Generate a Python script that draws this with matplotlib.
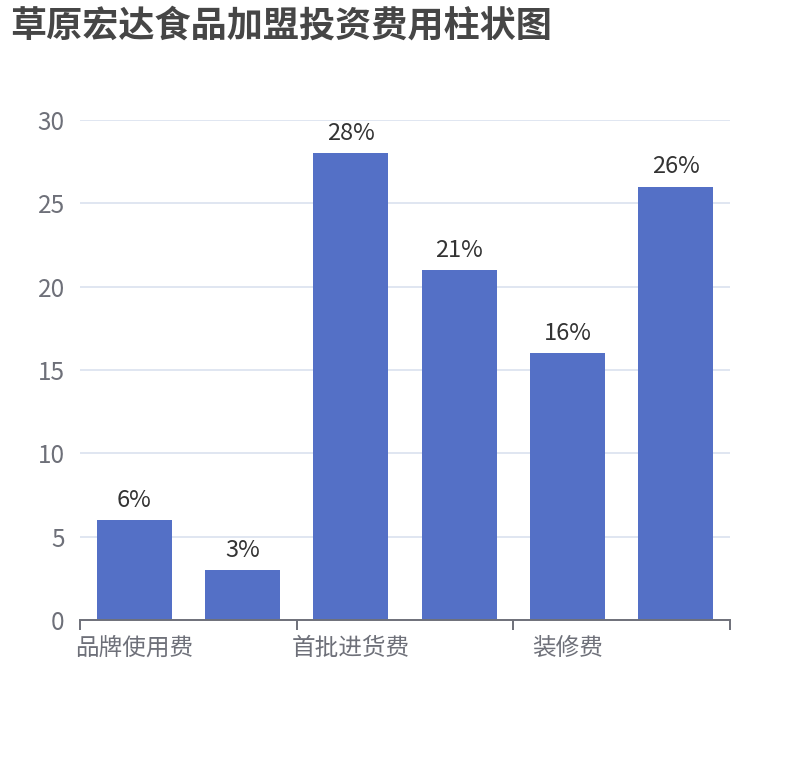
import matplotlib
matplotlib.use("Agg")
import matplotlib.pyplot as plt
from matplotlib.ticker import FixedLocator

plt.rcParams['font.family'] = ['Noto Sans CJK SC', 'DejaVu Sans']

title = "草原宏达食品加盟投资费用柱状图"
categories = ["品牌使用费", "加盟保证金", "首批进货费", "设备费", "装修费", "流动资金"]
values = [6, 3, 28, 21, 16, 26]
shown_labels = ["品牌使用费", "", "首批进货费", "", "装修费", ""]
y_ticks = [0, 5, 10, 15, 20, 25, 30]

W, H = 810, 760
fig = plt.figure(figsize=(W / 100, H / 100), dpi=100)
ax = fig.add_axes([80 / W, 140 / H, 650 / W, 500 / H])

x = list(range(len(categories)))
bars = ax.bar(x, values, width=0.69, color="#5470c6", zorder=3)

ax.set_xlim(-0.5, len(categories) - 0.5)
ax.set_ylim(0, 30)
ax.set_yticks(y_ticks)
ax.set_yticklabels([str(t) for t in y_ticks])

ax.set_xticks(x)
ax.set_xticklabels(shown_labels)
ax.xaxis.set_minor_locator(FixedLocator([-0.5, 1.5, 3.5, 5.5]))
ax.tick_params(axis='x', which='major', length=0, pad=12, labelsize=17, labelcolor="#6E7079")
ax.tick_params(axis='x', which='minor', length=7, width=1.4, color="#6E7079")
ax.tick_params(axis='y', length=0, pad=11, labelsize=17.5, labelcolor="#6E7079")

ax.grid(axis='y', color="#E0E6F1", linewidth=1.4, zorder=0)
for s in ['top', 'right', 'left']:
    ax.spines[s].set_visible(False)
ax.spines['bottom'].set_color("#6E7079")
ax.spines['bottom'].set_linewidth(1.4)
ax.spines['bottom'].set_zorder(4)

for xi, v in zip(x, values):
    ax.annotate(f"{v}%", (xi, v), xytext=(0, 6), textcoords="offset points",
                ha="center", va="bottom", fontsize=17, color="#333333")

fig.text(10 / W, 1 - 26 / H, title, fontsize=26, fontweight="bold",
         color="#464646", ha="left", va="center")

fig.savefig("out.png", dpi=100, facecolor="white")
